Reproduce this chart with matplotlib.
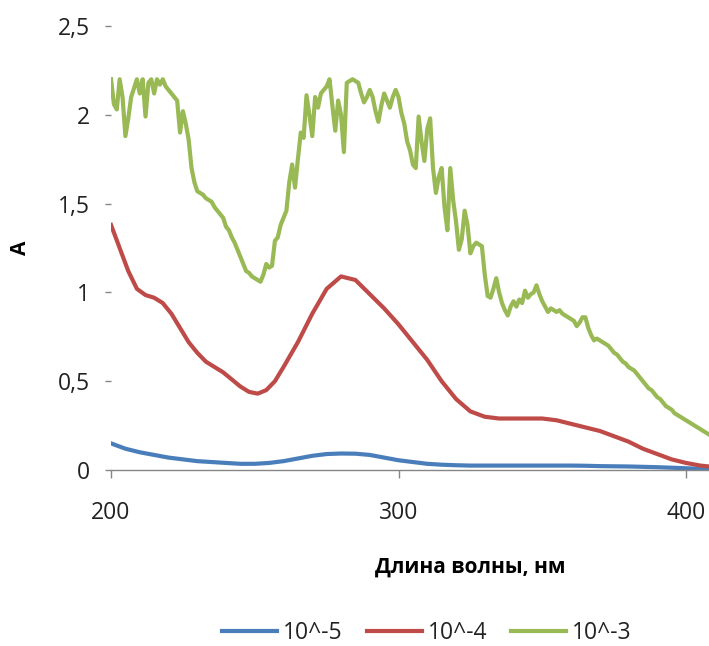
import matplotlib
matplotlib.use("Agg")
import matplotlib.pyplot as plt

plt.rcParams["font.family"] = ["Open Sans", "DejaVu Sans"]

# --- data ---
wl_blue = [200, 205, 210, 215, 220, 225, 230, 235, 240, 245, 250, 255, 260, 265,
           270, 275, 280, 285, 290, 295, 300, 305, 310, 315, 320, 325, 330, 335,
           340, 345, 350, 355, 360, 365, 370, 375, 380, 385, 390, 395, 400, 405, 408]
a_1e5 = [0.15, 0.12, 0.10, 0.085, 0.07, 0.06, 0.05, 0.045, 0.04, 0.035, 0.035, 0.04,
         0.05, 0.065, 0.08, 0.09, 0.093, 0.092, 0.085, 0.07, 0.055, 0.045, 0.035, 0.03,
         0.027, 0.025, 0.025, 0.025, 0.025, 0.025, 0.025, 0.025, 0.025, 0.024, 0.022,
         0.021, 0.02, 0.018, 0.016, 0.013, 0.01, 0.007, 0.005]

wl_red = [200, 203, 206, 209, 212, 215, 218, 221, 224, 227, 230, 233, 236, 239, 242,
          245, 248, 251, 254, 257, 260, 265, 270, 275, 280, 285, 290, 295, 300, 305,
          310, 315, 320, 325, 330, 335, 340, 345, 350, 355, 360, 365, 370, 375, 380,
          385, 390, 395, 400, 405, 408]
a_1e4 = [1.38, 1.25, 1.12, 1.02, 0.985, 0.97, 0.94, 0.88, 0.80, 0.72, 0.66, 0.61,
         0.58, 0.55, 0.51, 0.47, 0.44, 0.43, 0.45, 0.50, 0.58, 0.72, 0.88, 1.02, 1.09,
         1.07, 0.99, 0.91, 0.82, 0.72, 0.62, 0.50, 0.40, 0.33, 0.30, 0.29, 0.29, 0.29,
         0.29, 0.28, 0.26, 0.24, 0.22, 0.19, 0.16, 0.12, 0.09, 0.06, 0.04, 0.025, 0.02]

a_1e3 = [2.20, 2.06, 2.03, 2.20, 2.10, 1.88, 1.98, 2.10, 2.15, 2.20,
         2.12, 2.20, 1.99, 2.18, 2.20, 2.12, 2.20, 2.17, 2.20, 2.16,
         2.14, 2.12, 2.10, 2.08, 1.90, 2.02, 1.95, 1.86, 1.70, 1.62,
         1.57,
         1.56, 1.55, 1.53, 1.52, 1.51, 1.48, 1.46, 1.44, 1.42, 1.37,
         1.35, 1.31, 1.28, 1.24, 1.20, 1.16, 1.12, 1.11, 1.09, 1.08,
         1.07, 1.06, 1.10, 1.16, 1.14, 1.15, 1.29, 1.31, 1.38, 1.42,
         1.46, 1.62, 1.72, 1.59, 1.75,
         1.90, 1.87, 2.11, 2.00, 1.88, 2.10, 2.04, 2.12, 2.14, 2.16,
         2.20, 2.05, 1.91, 2.08, 2.00, 1.79, 2.18, 2.19, 2.20, 2.19,
         2.18, 2.12, 2.07, 2.10, 2.14, 2.10, 2.02, 1.96, 2.05, 2.12,
         2.08, 2.04, 2.10, 2.14, 2.10,
         2.01, 1.95, 1.85, 1.80, 1.72, 1.70, 1.99, 1.85, 1.74, 1.92,
         1.98, 1.70, 1.56, 1.65, 1.70, 1.48, 1.35, 1.70, 1.52, 1.40,
         1.24, 1.30, 1.46, 1.38, 1.22, 1.26, 1.28, 1.27, 1.26, 1.10,
         0.98, 0.97, 1.02, 1.08, 1.00, 0.94, 0.90, 0.87, 0.92, 0.95,
         0.92, 0.96, 0.94, 1.01, 0.97, 0.99, 1.00, 1.04, 0.99, 0.95,
         0.92, 0.89, 0.91, 0.90, 0.89, 0.90, 0.88, 0.87, 0.86, 0.85,
         0.84, 0.81, 0.83, 0.86, 0.86, 0.80, 0.76, 0.73, 0.74, 0.73,
         0.72, 0.71, 0.70, 0.68, 0.66,
         0.65, 0.63, 0.61, 0.60, 0.58, 0.57, 0.56, 0.54, 0.52, 0.50,
         0.48, 0.46, 0.45, 0.43, 0.41, 0.40, 0.38, 0.36, 0.35, 0.34,
         0.32, 0.31, 0.30, 0.29, 0.28, 0.27, 0.26, 0.25, 0.24, 0.23,
         0.22, 0.21, 0.20]
wl_green = list(range(200, 200 + len(a_1e3)))  # 1 nm step

series_labels = ["10^-5", "10^-4", "10^-3"]
colors = ["#4A7EBB", "#BE4B48", "#98B954"]

y_ticks = [0, 0.5, 1, 1.5, 2, 2.5]
y_ticklabels = ["0", "0,5", "1", "1,5", "2", "2,5"]
x_ticks = [200, 300, 400]

fig = plt.figure(figsize=(7.09, 6.46), dpi=100)
ax = fig.add_axes([0.1566, 0.2724, 0.8434, 0.6874])

ax.plot(wl_blue, a_1e5, color=colors[0], lw=3, label=series_labels[0])
ax.plot(wl_red, a_1e4, color=colors[1], lw=3, label=series_labels[1])
ax.plot(wl_green, a_1e3, color=colors[2], lw=3, label=series_labels[2])

ax.set_xlim(200, 408)
ax.set_ylim(0, 2.5)
ax.set_xticks(x_ticks)
ax.set_yticks(y_ticks)
ax.set_yticklabels(y_ticklabels)

for s in ["top", "right", "left"]:
    ax.spines[s].set_visible(False)
ax.spines["bottom"].set_color("#868686")
ax.spines["bottom"].set_linewidth(1.0)

ax.tick_params(axis="x", direction="out", length=6, width=1, color="#868686",
               pad=16, labelsize=16.5, labelcolor="#222222")
ax.tick_params(axis="y", direction="out", length=4.5, width=1, color="#868686",
               pad=11, labelsize=16.5, labelcolor="#222222")

fig.text(20 / 709, 1 - 248 / 646, "A", rotation=90, ha="center", va="center",
         fontsize=15, fontweight="bold")
fig.text(470 / 709, 1 - 567 / 646, "Длина волны, нм", ha="center", va="center",
         fontsize=15, fontweight="bold")

fig.legend(loc="center", bbox_to_anchor=(427 / 709, 1 - 633 / 646), ncol=3,
           frameon=False, fontsize=16.5, handlelength=2.4, handletextpad=0.25,
           columnspacing=1.05, labelcolor="#222222")

fig.savefig("out.png", dpi=100)
